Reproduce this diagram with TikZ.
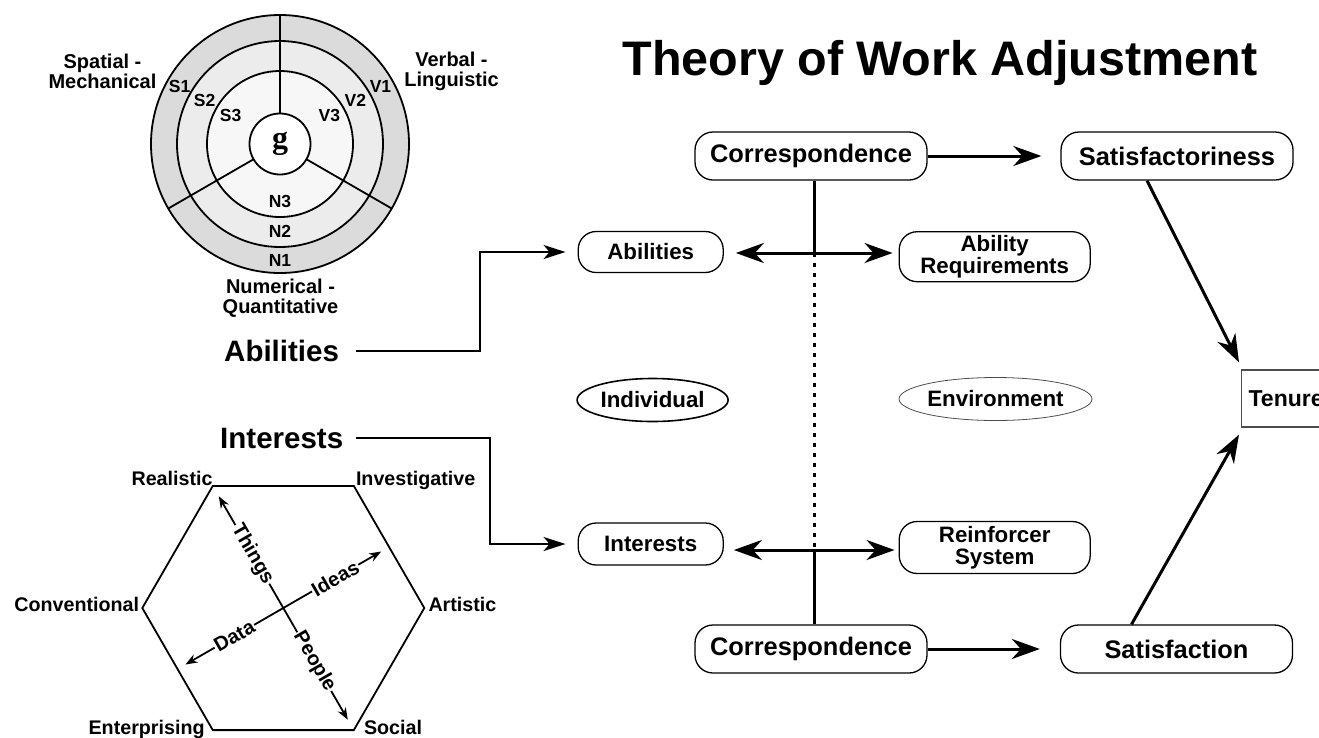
\documentclass[tikz,border=0pt]{standalone}
\usepackage{fontspec}
\setmainfont{Liberation Sans}
\newfontfamily\serifg{Liberation Serif}
\usetikzlibrary{arrows.meta,positioning,shapes.geometric,calc}
\definecolor{ringA}{gray}{0.86}
\definecolor{ringB}{gray}{0.925}
\definecolor{ringC}{gray}{0.97}
\newcommand{\twa}[1]{\fontsize{#1}{#1}\selectfont\bfseries}

\begin{document}
\begin{tikzpicture}[x=1pt, y=1pt,
  pill/.style={draw, rounded corners=18pt, line width=1.3pt, inner sep=0pt, align=center, font=\twa{22.3}},
  bigpill/.style={pill, minimum width=232pt, minimum height=48pt, font=\twa{25.4}},
  oval/.style={draw, ellipse, inner sep=0pt, minimum height=43pt, font=\twa{22.3}},
  biglbl/.style={font=\twa{29.5}, inner sep=0pt},
  hexlbl/.style={font=\twa{19.7}, inner sep=0pt},
  ringlbl/.style={font=\twa{17.5}, inner sep=0pt},
  arclbl/.style={font=\twa{20}, inner sep=0pt, align=center},
  axlbl/.style={font=\twa{20}, fill=white, inner sep=1pt},
  bigarr/.style={-{Stealth[length=28pt,width=20pt,inset=9pt]}, line width=3pt},
  elbow/.style={-{Stealth[length=22pt,width=14pt,inset=6pt]}, line width=2pt},
  axarr/.style={{Stealth[length=12pt,width=9pt]}-{Stealth[length=12pt,width=9pt]}, line width=1.8pt}]
\useasboundingbox (0,0) rectangle (1319,-737);

\node[font=\twa{48.5}, anchor=base] (title) at (940,-75) {Theory of Work Adjustment};

\coordinate (g) at (280,-144);
\fill[ringA] (g) circle (129);
\fill[ringB] (g) circle (103);
\fill[ringC] (g) circle (73);
\fill[white] (g) circle (30.5);
\foreach \r in {129,103,73,30.5} \draw[line width=1.8pt] (g) circle (\r);
\foreach \a in {90,210,330} \draw[line width=1.8pt] ($(g)+(\a:30.5)$) -- ($(g)+(\a:129)$);
\foreach \k/\r in {1/116,2/87,3/57} {
  \node[ringlbl] (S\k) at ($(g)+(150:\r)$) {S\k};
  \node[ringlbl] (V\k) at ($(g)+(30:\r)$) {V\k};
  \node[ringlbl] (N\k) at ($(g)+(-90:\r)$) {N\k};
}
\node[font=\serifg\fontsize{32}{32}\selectfont\bfseries, inner sep=0pt] (gnode) at (g) {g};
\node[arclbl] (spat) at (102.5,-71) {Spatial -\\Mechanical};
\node[arclbl] (verb) at (451.5,-71) {Verbal -\\Linguistic};
\node[arclbl] (numq) at (280.5,-298.5) {Numerical -\\Quantitative};

\coordinate (hc) at (283.3,-608);
\foreach \n/\a in {R/120,I/60,A/0,S/-60,E/-120,C/180} \coordinate (h\n) at ($(hc)+(\a:141)$);
\draw[line width=1.8pt] (hR) -- (hI) -- (hA) -- (hS) -- (hE) -- (hC) -- cycle;
\node[hexlbl, anchor=base east] (real) at (hR) {Realistic};
\node[hexlbl, anchor=base west, xshift=2pt] (inve) at (hI) {Investigative};
\node[hexlbl, anchor=base east, xshift=-3pt, yshift=-3pt] (conv) at (hC) {Conventional};
\node[hexlbl, anchor=base west, xshift=4pt, yshift=-3pt] (arti) at (hA) {Artistic};
\node[hexlbl, anchor=base east, xshift=-8pt, yshift=-4pt] (ente) at (hE) {Enterprising};
\node[hexlbl, anchor=base west, xshift=10pt, yshift=-4pt] (soci) at (hS) {Social};

\coordinate (thng) at ($(hc)+(120:129)$);
\coordinate (peop) at ($(hc)+(-60:129)$);
\coordinate (data) at ($(hc)+(210:113)$);
\coordinate (idea) at ($(hc)+(30:113)$);
\draw[axarr] (thng) -- (peop);
\draw[axarr] (data) -- (idea);
\node[axlbl, rotate=-60] (thngl) at ($(hc)!0.48!(thng)$) {Things};
\node[axlbl, rotate=-60] (peopl) at ($(hc)!0.48!(peop)$) {People};
\node[axlbl, rotate=30] (ideal) at ($(hc)!0.53!(idea)$) {Ideas};
\node[axlbl, rotate=30] (datal) at ($(hc)!0.5!(data)$) {Data};

\node[biglbl, anchor=base west] (ablbl) at (224,-361.7) {Abilities};
\node[biglbl, anchor=base west] (inlbl) at (220,-448) {Interests};

\node[bigpill] (corrT) at (811,-156) {Correspondence};
\node[bigpill] (satfy) at (1177,-156) {Satisfactoriness};
\node[pill, minimum width=145pt, minimum height=41pt] (abil) at (650.7,-252) {Abilities};
\node[pill, minimum width=191pt, minimum height=50pt] (abreq) at (994.7,-256.7) {Ability\\Requirements};
\node[oval, minimum width=151pt, line width=1.6pt] (indiv) at (652.6,-400) {Individual};
\node[oval, minimum width=193pt, line width=0.8pt, draw=black!70] (envir) at (995.5,-399) {Environment};
\node[pill, minimum width=145pt, minimum height=42pt] (inter) at (650.7,-544) {Interests};
\node[pill, minimum width=191pt, minimum height=52pt] (reinf) at (994.7,-547.5) {Reinforcer\\System};
\node[bigpill] (corrB) at (811,-649) {Correspondence};
\node[bigpill] (satfn) at (1176.5,-649) {Satisfaction};
\node[draw=black!70, line width=1.2pt, anchor=west, minimum height=57pt, inner sep=7pt, font=\twa{23}] (tenure) at (1241,-398.5) {Tenure};

\coordinate (jA) at (814,-253);
\coordinate (jI) at (814,-550);
\draw[line width=3pt] (corrT.south -| jA) -- (jA);
\draw[line width=3pt, dash pattern=on 4pt off 6pt] (jA) -- (jI);
\draw[line width=3pt] (jI) -- (corrB.north -| jA);
\draw[bigarr, shorten >=12pt] (jA) -- (jA -| abil.east);
\draw[bigarr, shorten >=6pt] (jA) -- (jA -| abreq.west);
\draw[bigarr, shorten >=10pt] (jI) -- (jI -| inter.east);
\draw[bigarr, shorten >=4pt] (jI) -- (jI -| reinf.west);

\path[bigarr] (corrT) edge[shorten >=19pt] (satfy)
  (corrB) edge[shorten >=20pt] (satfn);
\draw[bigarr] ($(satfy.south)+(-30,0)$) -- ($(tenure.north west)+(-2,7)$);
\draw[bigarr] ($(satfn.north)+(-45,0)$) -- ($(tenure.south west)+(-2,-7)$);

\coordinate (kA) at (480,-300);
\coordinate (kI) at (490,-500);
\draw[elbow, shorten <=17pt, shorten >=12pt] (ablbl.east) -- (ablbl.east -| kA) |- (abil.west);
\draw[elbow, shorten <=13pt, shorten >=12pt] (inlbl.east) -- (inlbl.east -| kI) |- (inter.west);
\end{tikzpicture}
\end{document}
